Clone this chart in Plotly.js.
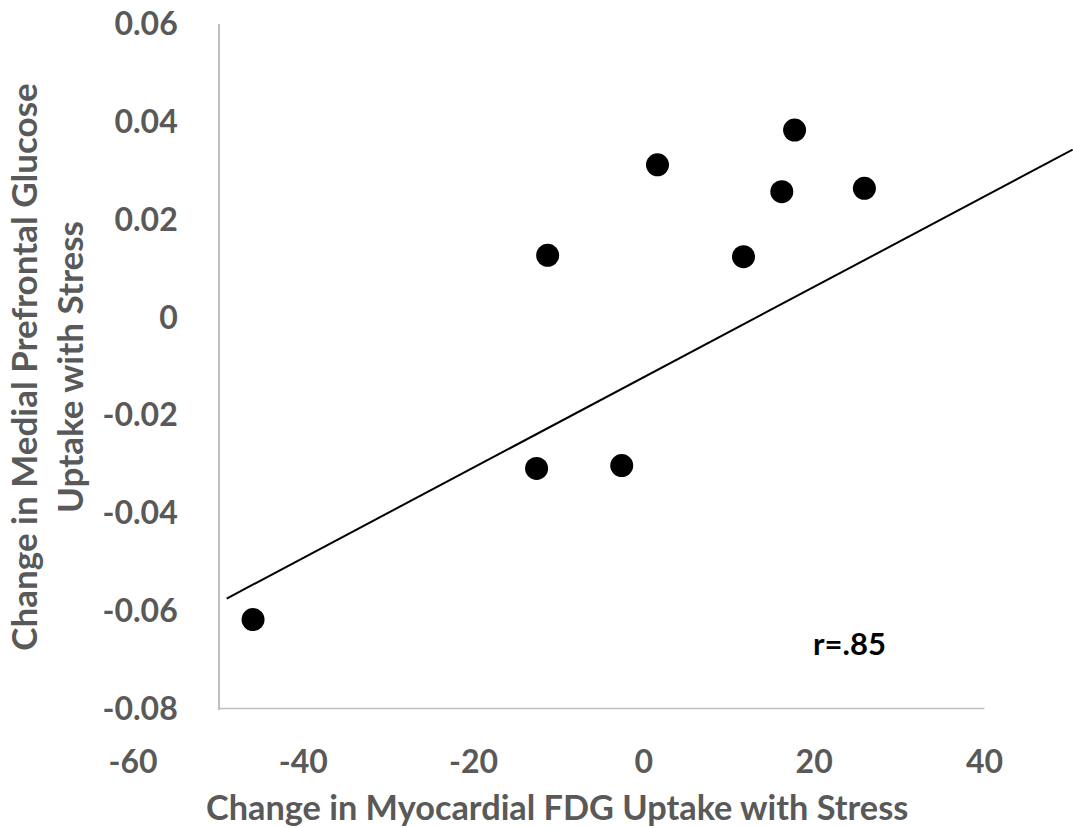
<!DOCTYPE html>
<html>
<head>
<meta charset="utf-8">
<script src="https://cdn.plot.ly/plotly-3.0.1.min.js"></script>
<style>html,body{margin:0;padding:0;background:#fff;}</style>
</head>
<body>
<div id="chart" style="width:1073px;height:828px;"></div>
<script>
// Data
const myocardialChange = [-45.9, -12.6, -2.6, -11.3, 1.6, 11.7, 16.2, 17.7, 25.9];
const prefrontalChange = [-0.0618, -0.0309, -0.0303, 0.0127, 0.0312, 0.0124, 0.0257, 0.0383, 0.0264];
const trendX = [-49.0, 50.36];
const trendY = [-0.0575, 0.0343];
const xTicks = [-60, -40, -20, 0, 20, 40];
const yTicks = [-0.08, -0.06, -0.04, -0.02, 0, 0.02, 0.04, 0.06];
const yTickText = ['-0.08', '-0.06', '-0.04', '-0.02', '0', '0.02', '0.04', '0.06'];
const axisStart = {x: -50, y: -0.08};
const axisEnd = {x: 40, y: 0.06};
const xTitle = 'Change in Myocardial FDG Uptake with Stress';
const yTitle = 'Change in Medial Prefrontal Glucose<br>Uptake with Stress';
const rLabel = 'r=.85';

const grey = '#595959';
const font = 'Lato, "Open Sans", sans-serif';

const traces = [
  {x: trendX, y: trendY, type: 'scatter', mode: 'lines',
   line: {color: '#000', width: 2}, hoverinfo: 'skip', showlegend: false},
  {x: myocardialChange, y: prefrontalChange, type: 'scatter', mode: 'markers',
   marker: {color: '#000', size: 23}, showlegend: false}
];

const layout = {
  width: 1073, height: 828,
  margin: {l: 133, r: 0, t: 24, b: 118},
  paper_bgcolor: '#fff', plot_bgcolor: '#fff',
  font: {family: font, color: grey},
  showlegend: false,
  xaxis: {
    range: [-60, 50.4], tickvals: xTicks, ticktext: xTicks.map(String),
    showgrid: false, zeroline: false, showline: false, ticks: '',
    tickfont: {size: 32, family: font, color: grey, weight: 'bold'},
    ticklabelstandoff: 30
  },
  yaxis: {
    range: [-0.0803, 0.06], tickvals: yTicks, ticktext: yTickText,
    anchor: 'free', position: (axisStart.x - (-60)) / (50.4 - (-60)),
    showgrid: false, zeroline: false, showline: true, linecolor: '#BFBFBF', linewidth: 1.5,
    ticks: '',
    tickfont: {size: 32, family: font, color: grey, weight: 'bold'},
    ticklabelstandoff: 34,
    title: {text: yTitle,
            font: {size: 35, family: font, color: grey, weight: 'bold'}, standoff: 7}
  },
  shapes: [
    {type: 'line', xref: 'x', yref: 'y', x0: axisStart.x, x1: axisEnd.x, y0: axisStart.y, y1: axisStart.y,
     line: {color: '#BFBFBF', width: 1.5}, layer: 'below'}
  ],
  annotations: [
    {xref: 'x', yref: 'y', x: 24.1, y: -0.0666, text: rLabel, showarrow: false,
     font: {size: 31, family: font, color: '#000', weight: 'bold'}},
    {xref: 'x', yref: 'paper', x: -10.2, y: -0.14, yanchor: 'middle', xanchor: 'center',
     text: xTitle, showarrow: false,
     font: {size: 34.3, family: font, color: grey, weight: 'bold'}}
  ]
};

Plotly.newPlot('chart', traces, layout, {displayModeBar: false, staticPlot: true});
</script>
</body>
</html>
